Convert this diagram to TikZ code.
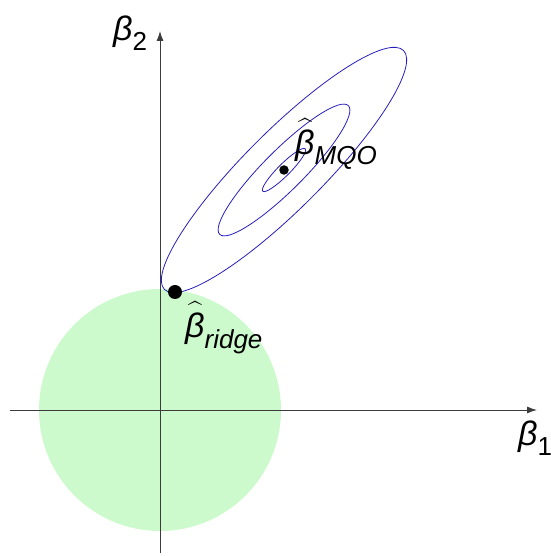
\documentclass[tikz,border=0pt]{standalone}
\usepackage{amsmath}
\usepackage{fontspec}
\setmainfont{Liberation Sans}
\DeclareMathSizes{34}{34}{26}{20}
\usepackage{tikz}
\usetikzlibrary{arrows.meta,positioning,calc}
\definecolor{clrDisc}{RGB}{204,250,204}
\definecolor{clrLvl}{RGB}{40,30,190}
\definecolor{clrAx}{RGB}{60,60,60}
\newcommand{\hatbeta}{\widehat{\text{\rule{0pt}{0.86em}β}}}
\tikzset{
  axis/.style={-{Latex[length=10pt,width=7pt]},line width=0.9pt,color=clrAx},
  level/.style={draw=clrLvl,line width=0.8pt},
  est/.style={circle,fill=black,inner sep=0pt},
  lbl/.style={font=\fontsize{34}{40}\selectfont\itshape,inner sep=0pt,anchor=base west}
}

\begin{document}
\begin{tikzpicture}[x=1pt,y=1pt]
  \useasboundingbox (-160,-146) rectangle (390,410);
  % constraint region
  \fill[clrDisc] (0,0) circle [radius=121pt];
  \coordinate (o) at (0,0);
  \coordinate (xl) at (-150,0);
  \coordinate (xr) at (377,0);
  \coordinate (yb) at (0,-143);
  \coordinate (yt) at (0,379);
  \draw[axis] (xl) -- (xr);
  \draw[axis] (yb) -- (yt);
  \node[lbl] (b1) at (358,-36) {$\text{β}_{\text{\upshape 1}}$};
  \node[lbl] (b2) at (-47,369) {$\text{β}_{\text{\upshape 2}}$};
  % contours of the RSS
  \coordinate (c) at (124,240);
  \draw[level,rotate around={45:(c)}] (c) ellipse [x radius=169pt,y radius=39pt];
  \draw[level,rotate around={45:(c)}] (c) ellipse [x radius=91pt,y radius=20pt];
  \draw[level,rotate around={45:(c)}] (c) ellipse [x radius=30pt,y radius=6pt];
  \node[est,minimum size=9.5pt] (mqo) at (c) {};
  \node[est,minimum size=14pt] (ridge) at (15,118) {};
  \node[lbl] (mqolbl) at (135,255) {$\hatbeta_{\text{MQO}}$};
  \node[lbl] (ridgelbl) at (25,72) {$\hatbeta_{\text{ridge}}$};
\end{tikzpicture}
\end{document}
